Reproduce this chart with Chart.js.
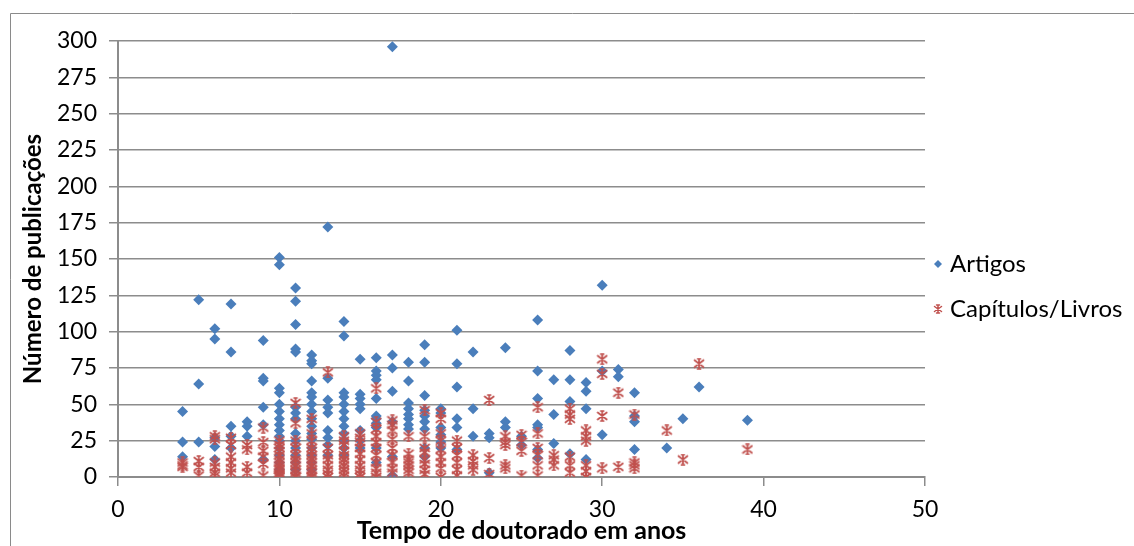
<!DOCTYPE html>
<html>
<head>
<meta charset="utf-8">
<script src="https://cdn.jsdelivr.net/npm/chart.js@4/dist/chart.umd.min.js"></script>
<style>
  html, body { margin: 0; padding: 0; background: #fff; }
  #box { width: 1134px; height: 546px; position: relative; }
</style>
</head>
<body>
<div id="box"><canvas id="grafico"></canvas></div>
<script>
// anos de doutorado (eixo x) e publicações por docente em cada ano
const anos = [4, 5, 6, 7, 8, 9, 10, 11, 12, 13, 14, 15, 16, 17, 18, 19, 20, 21, 22, 23, 24, 25, 26, 27, 28, 29, 30, 31, 32, 34, 35, 36, 39];

const artigos = [
    [45, 24, 14],
    [122, 64, 24],
    [102, 95, 27, 21, 12],
    [119, 86, 35, 28, 20],
    [38, 35, 28],
    [94, 68, 66, 48, 36, 12],
    [151, 146, 61, 58, 50, 45, 40, 36, 32, 28, 25, 20, 15, 10, 5],
    [130, 121, 105, 88, 86, 48, 44, 40, 30, 25, 20, 15, 10, 5],
    [84, 80, 78, 66, 58, 55, 50, 45, 40, 35, 30, 26, 20, 15, 10, 5],
    [172, 68, 53, 48, 44, 32, 27, 22, 15],
    [107, 97, 58, 55, 50, 45, 40, 35, 30, 25, 20, 15],
    [81, 57, 54, 50, 47, 32, 25, 20],
    [82, 73, 70, 67, 54, 42, 40, 37, 34, 20, 10],
    [296, 84, 75, 59, 38, 14, 1],
    [79, 66, 51, 47, 43, 40, 36, 33],
    [91, 79, 56, 46, 42, 38, 33, 20, 14],
    [47, 44, 34, 29, 24, 20],
    [101, 78, 62, 40, 34, 19],
    [86, 47, 28],
    [30, 27, 3],
    [89, 38, 34],
    [28, 22],
    [108, 73, 54, 36, 34, 19, 13],
    [67, 43, 23],
    [87, 67, 52, 16],
    [65, 59, 47, 12],
    [132, 73, 29],
    [74, 69],
    [58, 42, 38, 19],
    [20],
    [40],
    [62],
    [39]
];

const capitulos = [
    [10, 8, 7],
    [11, 7, 1],
    [28, 26, 10, 7, 3, 1],
    [27, 22, 14, 10, 6, 3],
    [22, 19, 7, 3],
    [34, 24, 18, 14, 9, 1],
    [25, 22, 20, 18, 15, 12, 10, 8, 6, 5, 3, 2, 1, 0],
    [51, 37, 25, 20, 15, 12, 10, 8, 5, 3, 1, 0],
    [40, 30, 25, 20, 18, 15, 12, 10, 8, 5, 3, 1, 0],
    [72, 20, 15, 12, 8, 5, 2, 0],
    [28, 25, 22, 18, 15, 12, 10, 8, 5, 3, 1],
    [30, 27, 24, 20, 16, 12, 8, 5, 2, 0],
    [61, 38, 33, 28, 24, 20, 15, 10, 6, 3, 0],
    [39, 36, 32, 26, 20, 15, 10, 6, 3],
    [28, 16, 12, 10, 8, 5, 3],
    [46, 28, 20, 17, 12, 9, 5, 2],
    [44, 40, 30, 25, 19, 14, 10, 6, 0],
    [25, 20, 15, 10, 5, 1],
    [15, 11, 8, 5],
    [53, 13, 2],
    [28, 24, 22, 8, 6],
    [29, 24, 18, 1],
    [48, 30, 20, 15, 8, 1],
    [15, 12, 8],
    [47, 43, 40, 14, 8, 3],
    [32, 28, 25, 8, 4, 0],
    [81, 71, 42, 6],
    [58, 7],
    [43, 10, 8, 6],
    [32],
    [12],
    [78],
    [19]
];

const series = ['Artigos', 'Capítulos/Livros'];
const ticksX = [0, 10, 20, 30, 40, 50];
const ticksY = [0, 25, 50, 75, 100, 125, 150, 175, 200, 225, 250, 275, 300];

const AZUL = '#4a7ebb';
const VERMELHO = '#c0504d';
const FONTE = 'Lato, "Open Sans", sans-serif';

// transforma a lista por ano em pontos {x, y}
function pontos(lista) {
    const out = [];
    lista.forEach(function(vals, i) {
        vals.forEach(function(v) { out.push({ x: anos[i], y: v }); });
    });
    return out;
}

// marcador "estrela" do Excel: um x cortado por um traço vertical
function estrela(cor, tam, lw) {
    const c = document.createElement('canvas');
    c.width = tam; c.height = tam;
    const g = c.getContext('2d');
    const m = tam / 2, a = 1.5, b = tam - 1.5;
    g.strokeStyle = cor;
    g.lineWidth = lw;
    g.lineCap = 'round';
    g.beginPath();
    g.moveTo(a, a + 1); g.lineTo(b, b - 1);
    g.moveTo(b, a + 1); g.lineTo(a, b - 1);
    g.moveTo(m, 1); g.lineTo(m, tam - 1);
    g.moveTo(m - 1.5, 1); g.lineTo(m + 1.5, 1);
    g.moveTo(m - 1.5, tam - 1); g.lineTo(m + 1.5, tam - 1);
    g.stroke();
    return c;
}

const marcaEstrela = estrela(VERMELHO, 12, 1.7);
const marcaLegenda = estrela(VERMELHO, 10, 1.5);

// moldura fina em volta do gráfico
const moldura = {
    id: 'moldura',
    beforeDraw: function(chart) {
        const ctx = chart.ctx;
        ctx.save();
        ctx.strokeStyle = '#8a8a8a';
        ctx.lineWidth = 1;
        ctx.beginPath();
        ctx.moveTo(10.5, 546);
        ctx.lineTo(10.5, 13.5);
        ctx.lineTo(1134, 13.5);
        ctx.stroke();
        ctx.restore();
    }
};

// legenda à direita, desenhada à mão
const legenda = {
    id: 'legenda',
    afterDraw: function(chart) {
        const ctx = chart.ctx;
        ctx.save();
        ctx.font = '24px ' + FONTE;
        ctx.textBaseline = 'middle';
        // Artigos
        ctx.fillStyle = AZUL;
        ctx.beginPath();
        ctx.moveTo(938, 260); ctx.lineTo(942, 264); ctx.lineTo(938, 268); ctx.lineTo(934, 264);
        ctx.closePath();
        ctx.fill();
        ctx.fillStyle = '#000';
        ctx.fillText(series[0], 950, 264);
        // Capítulos/Livros
        ctx.drawImage(marcaLegenda, 933, 304);
        ctx.fillText(series[1], 950, 309);
        ctx.restore();
    }
};

const ctx = document.getElementById('grafico').getContext('2d');

const grafico = new Chart(ctx, {
    type: 'scatter',
    data: {
        datasets: [
            {
                label: series[0],
                data: pontos(artigos),
                backgroundColor: AZUL,
                borderColor: AZUL,
                borderWidth: 0,
                pointStyle: 'rectRot',
                pointRadius: 5.5,
                order: 2
            },
            {
                label: series[1],
                data: pontos(capitulos),
                pointStyle: marcaEstrela,
                pointRadius: 6,
                order: 1
            }
        ]
    },
    options: {
        responsive: true,
        maintainAspectRatio: false,
        animation: false,
        events: [],
        layout: { padding: { left: 0, top: 41, right: 209, bottom: 0 } },
        plugins: {
            legend: { display: false },
            tooltip: { enabled: false }
        },
        scales: {
            x: {
                type: 'linear',
                min: 0,
                max: 50,
                afterBuildTicks: function(s) { s.ticks = ticksX.map(function(v) { return { value: v }; }); },
                afterFit: function(s) { s.height = 69; },
                grid: {
                    drawOnChartArea: false,
                    drawTicks: true,
                    tickLength: 9,
                    color: '#8c8c8c',
                    lineWidth: 1.5
                },
                border: { color: '#8c8c8c', width: 2 },
                ticks: {
                    color: '#000',
                    padding: 10,
                    maxRotation: 0,
                    font: { family: FONTE, size: 23 }
                },
                title: {
                    display: true,
                    text: 'Tempo de doutorado em anos',
                    color: '#000',
                    padding: { top: 0, bottom: 0 },
                    font: { family: FONTE, size: 25, weight: 'bold' }
                }
            },
            y: {
                type: 'linear',
                min: 0,
                max: 300,
                afterBuildTicks: function(s) { s.ticks = ticksY.map(function(v) { return { value: v }; }); },
                afterFit: function(s) { s.width = 118; },
                grid: {
                    drawTicks: true,
                    tickLength: 9,
                    color: '#8c8c8c',
                    lineWidth: 1.5
                },
                border: { color: '#8c8c8c', width: 2 },
                ticks: {
                    color: '#000',
                    padding: 12,
                    font: { family: FONTE, size: 23 }
                },
                title: {
                    display: true,
                    text: 'Número de publicações',
                    color: '#000',
                    padding: { top: 19, bottom: 0 },
                    font: { family: FONTE, size: 24, weight: 'bold' }
                }
            }
        }
    },
    plugins: [moldura, legenda]
});
</script>
</body>
</html>
